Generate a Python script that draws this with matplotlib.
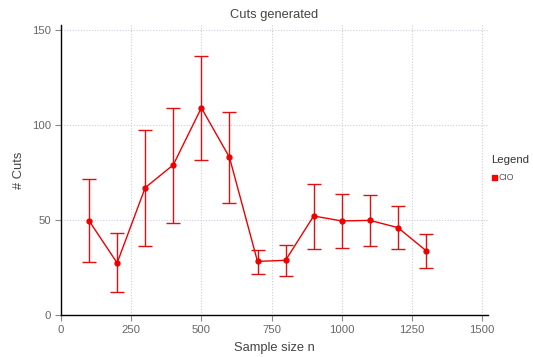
import numpy as np
import matplotlib
matplotlib.use('Agg')
import matplotlib.pyplot as plt
from matplotlib.patches import Rectangle

plt.rcParams['font.family'] = ['Liberation Sans', 'DejaVu Sans']

sample_size = [100, 200, 300, 400, 500, 600, 700, 800, 900, 1000, 1100, 1200, 1300]
cuts_mean = [49.6, 27.4, 67.0, 79.0, 109.0, 83.0, 28.2, 28.8, 52.1, 49.5, 49.8, 46.0, 33.9]
cuts_upper = [71.4, 43.0, 97.4, 109.1, 136.3, 106.8, 34.4, 37.0, 69.1, 63.5, 63.2, 57.4, 42.8]
cuts_lower = [27.9, 11.9, 36.5, 48.6, 81.4, 58.8, 21.6, 20.4, 34.7, 35.1, 36.5, 34.6, 24.9]

x_ticks = [0, 250, 500, 750, 1000, 1250, 1500]
y_ticks = [0, 50, 100, 150]

fig = plt.figure(figsize=(5.33, 3.57), dpi=100)
ax = fig.add_axes([0.1144, 0.1176, 0.8012, 0.8124])

mean = np.array(cuts_mean)
err = [mean - np.array(cuts_lower), np.array(cuts_upper) - mean]
ax.errorbar(sample_size, mean, yerr=err, color='#ee0000', ecolor='#dd1111',
            elinewidth=1.0, capsize=5, capthick=1.0, linewidth=1.0,
            marker='o', markersize=3.5, zorder=3)

ax.set_xlim(0, 1521)
ax.set_ylim(0, 152.6)
ax.set_xticks(x_ticks)
ax.set_yticks(y_ticks)
ax.grid(True, color='#ccccdd', linestyle=(0, (1, 1.5)), linewidth=0.8)
ax.set_axisbelow(True)
for s in ['top', 'right']:
    ax.spines[s].set_visible(False)
ax.spines['left'].set_linewidth(1.0)
ax.spines['bottom'].set_linewidth(1.0)
ax.tick_params(axis='both', colors='#666666', labelsize=8.2, length=4, width=0.8, pad=3)
ax.tick_params(axis='both', color='#888888')

ax.set_title('Cuts generated', fontsize=9.3, color='#444444', pad=5)
ax.set_xlabel('Sample size n', fontsize=9.3, color='#444444', labelpad=5)
ax.set_ylabel('# Cuts', fontsize=9.3, color='#444444', labelpad=5)

fig.text(491 / 533, 1 - 160 / 357, 'Legend', fontsize=8.2, color='#333333', va='center')
fig.patches.append(Rectangle((492 / 533, 1 - 179.5 / 357), 4.5 / 533, 4.5 / 357,
                             transform=fig.transFigure, color='#ff0000'))
fig.text(498.5 / 533, 1 - 177 / 357, 'CIO', fontsize=6.3, color='#555555', va='center')

fig.savefig('out.png', dpi=100)
